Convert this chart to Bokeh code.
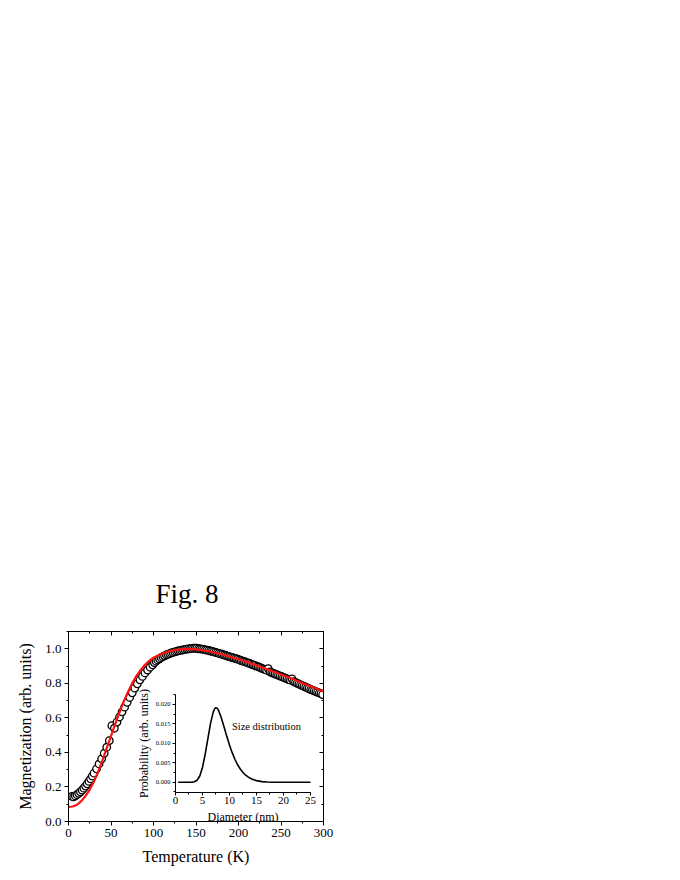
from bokeh.plotting import figure
from bokeh.models import (LinearAxis, Range1d, SingleIntervalTicker,
                          NumeralTickFormatter, Label)
from bokeh.embed import file_html
from bokeh.resources import INLINE

# ---- main data: measured magnetization (circles) ----
temp_meas = [4, 6, 8, 10, 12, 14, 16, 18, 20, 22, 24, 26, 28, 30, 33, 36, 39, 42, 45, 48,
             51, 54, 57, 60, 63, 66, 69, 72, 75, 78, 81, 84, 87, 90, 93, 96, 99,
             101, 103, 105, 107, 109, 111, 113, 115, 117, 119, 121, 123, 125, 127, 129,
             131, 133, 135, 137, 139, 141, 143, 145, 147, 149, 151, 153, 155, 157, 159,
             161, 163, 165, 167, 169, 171, 173, 175, 177, 179, 181, 183, 185, 187, 189,
             191, 193, 195, 197, 199, 201, 203, 205, 207, 209, 211, 213, 215, 217, 219,
             221, 223, 225, 227, 229, 231, 233, 235, 237, 239, 241, 243, 245, 247, 249,
             251, 253, 255, 257, 259, 261, 263, 265, 267, 269, 271, 273, 275, 277, 279,
             281, 283, 285, 287, 289, 291, 293, 295, 297, 299]
mag_meas = [0.145, 0.142, 0.148, 0.155, 0.163, 0.172, 0.182, 0.193, 0.205, 0.218, 0.232, 0.247,
            0.263, 0.280, 0.305, 0.333, 0.363, 0.395, 0.430, 0.468,
            0.555, 0.540, 0.575, 0.605, 0.635, 0.662, 0.690, 0.718, 0.745, 0.772, 0.797,
            0.820, 0.840, 0.860, 0.877, 0.893, 0.907,
            0.920, 0.928, 0.935, 0.942, 0.948, 0.954, 0.959, 0.964, 0.968, 0.972, 0.976,
            0.979, 0.982, 0.985, 0.988, 0.990, 0.992, 0.994, 0.996, 0.998, 0.999, 1.000,
            1.002, 1.003, 1.003, 1.004, 1.000, 0.999, 0.998, 0.996, 0.994, 0.992, 0.990,
            0.987, 0.985, 0.982, 0.979, 0.976, 0.973, 0.970, 0.967, 0.964, 0.961, 0.958,
            0.955, 0.952, 0.949, 0.946, 0.943, 0.940, 0.936, 0.932, 0.929, 0.925, 0.922,
            0.918, 0.915, 0.911, 0.907, 0.904, 0.900, 0.896, 0.892, 0.888, 0.884, 0.880,
            0.876, 0.885, 0.866, 0.862, 0.858, 0.854, 0.850, 0.846, 0.842, 0.838, 0.834,
            0.830, 0.826, 0.822, 0.818, 0.826, 0.810, 0.805, 0.800, 0.796, 0.791, 0.787,
            0.782, 0.778, 0.773, 0.769, 0.764, 0.760, 0.756, 0.752, 0.748, 0.744, 0.740,
            0.735]

# ---- fit curve (red) ----
temp_fit = [0, 5, 10, 15, 20, 25, 30, 35, 40, 45, 50, 55, 60, 65, 70, 75, 80, 85, 90, 95,
            100, 110, 120, 130, 140, 150, 160, 170, 180, 190, 200, 210, 220, 230, 240,
            250, 260, 270, 280, 290, 300]
mag_fit = [0.085, 0.087, 0.097, 0.118, 0.148, 0.185, 0.232, 0.290, 0.355, 0.425, 0.495,
           0.565, 0.632, 0.695, 0.750, 0.800, 0.843, 0.878, 0.907, 0.930, 0.948, 0.973,
           0.988, 0.996, 0.999, 0.997, 0.990, 0.980, 0.968, 0.954, 0.939, 0.923, 0.906,
           0.888, 0.870, 0.851, 0.832, 0.812, 0.792, 0.773, 0.753]

# ---- inset: size distribution ----
diameter = [0.5, 1, 2, 3, 3.5, 4, 4.5, 5, 5.5, 6, 6.5, 7, 7.25, 7.5, 7.75, 8, 8.5, 9, 9.5,
            10, 10.5, 11, 11.5, 12, 12.5, 13, 13.5, 14, 14.5, 15, 16, 17, 18, 20, 25]
probability = [0, 0, 0, 0.00002, 0.0001, 0.0005, 0.0016, 0.0038, 0.0072, 0.0112, 0.0152,
               0.0181, 0.0189, 0.0192, 0.0190, 0.0184, 0.0165, 0.0142, 0.0118, 0.0096,
               0.0076, 0.0059, 0.0045, 0.0034, 0.0025, 0.0018, 0.0013, 0.0009, 0.0006,
               0.0004, 0.00015, 0.00005, 0, 0, 0]

FONT = "Liberation Serif"

p = figure(width=672, height=872, x_range=(0, 300), y_range=(0, 1.1),
           output_backend="svg", toolbar_location=None,
           min_border_left=68, min_border_right=349, min_border_top=631,
           min_border_bottom=51, title="Fig. 8")
p.title.align = "left"
p.title.text_font = FONT
p.title.text_font_size = "27px"
p.title.text_font_style = "normal"
p.title.text_color = "black"
p.title.offset = 87
p.title.standoff = 46
p.xgrid.visible = False
p.ygrid.visible = False
p.outline_line_color = "black"
p.outline_line_width = 1
p.background_fill_color = "white"
p.border_fill_color = "white"

# main axes
for ax, tk, fmt, lab in ((p.xaxis[0], SingleIntervalTicker(interval=50, num_minor_ticks=2), None, "Temperature (K)"),
                         (p.yaxis[0], SingleIntervalTicker(interval=0.2, num_minor_ticks=2), NumeralTickFormatter(format="0.0"), "Magnetization (arb. units)")):
    ax.ticker = tk
    if fmt is not None:
        ax.formatter = fmt
    ax.axis_label = lab
    ax.axis_label_text_font = FONT
    ax.axis_label_text_font_size = "16px"
    ax.axis_label_text_font_style = "normal"
    ax.axis_label_text_color = "black"
    ax.major_label_text_font = FONT
    ax.major_label_text_font_size = "13px"
    ax.major_label_text_color = "black"
    ax.axis_line_color = "black"
    ax.major_tick_line_color = "black"
    ax.minor_tick_line_color = "black"
    ax.major_tick_out = 4
    ax.major_tick_in = 0
    ax.minor_tick_out = 2
    ax.minor_tick_in = 0
    ax.major_label_standoff = 3
p.xaxis[0].axis_label_standoff = 8
p.yaxis[0].axis_label_standoff = 8

# mirrored ticks on top and right
top = LinearAxis(ticker=SingleIntervalTicker(interval=50, num_minor_ticks=2),
                 major_tick_in=4, major_tick_out=0, minor_tick_in=2, minor_tick_out=0,
                 major_label_text_color=None, major_label_text_font_size="1px",
                 major_label_standoff=0, axis_line_color="black",
                 major_tick_line_color="black", minor_tick_line_color="black")
right = LinearAxis(ticker=SingleIntervalTicker(interval=0.2, num_minor_ticks=2),
                   major_tick_in=4, major_tick_out=0, minor_tick_in=2, minor_tick_out=0,
                   major_label_text_color=None, axis_line_color="black",
                   major_tick_line_color="black", minor_tick_line_color="black")
p.add_layout(top, "above")
p.add_layout(right, "right")

# data
p.scatter(temp_meas, mag_meas, size=7.5, marker="circle", fill_color="white",
          line_color="black", line_width=1.3)
p.line(temp_fit, mag_fit, line_color="#ff1010", line_width=2.2)

# inset via extra ranges
p.extra_x_ranges = {"ix": Range1d(-19.81, 27.41)}
p.extra_y_ranges = {"iy": Range1d(-0.01012, 0.03879)}

ix = LinearAxis(x_range_name="ix", y_range_name="iy", fixed_location=-0.0026,
                bounds=(0, 25), ticker=SingleIntervalTicker(interval=5, num_minor_ticks=2),
                axis_label="Diameter (nm)")
iy = LinearAxis(x_range_name="ix", y_range_name="iy", fixed_location=0,
                bounds=(-0.0026, 0.0226),
                ticker=SingleIntervalTicker(interval=0.005, num_minor_ticks=2),
                formatter=NumeralTickFormatter(format="0.000"),
                axis_label="Probability (arb. units)")
for ax, fs in ((ix, "11px"), (iy, "6.5px")):
    ax.axis_label_text_font = FONT
    ax.axis_label_text_font_size = "12px"
    ax.axis_label_text_font_style = "normal"
    ax.axis_label_text_color = "black"
    ax.axis_label_standoff = 2
    ax.major_label_text_font = FONT
    ax.major_label_text_font_size = fs
    ax.major_label_text_color = "black"
    ax.major_label_standoff = 2
    ax.axis_line_color = "black"
    ax.major_tick_line_color = "black"
    ax.minor_tick_line_color = "black"
    ax.major_tick_out = 3
    ax.major_tick_in = 0
    ax.minor_tick_out = 2
    ax.minor_tick_in = 0
p.add_layout(ix, "below")
p.add_layout(iy, "left")

p.line(diameter, probability, x_range_name="ix", y_range_name="iy",
       line_color="black", line_width=1.6)

p.add_layout(Label(x=10.45, y=0.0144, x_range_name="ix", y_range_name="iy",
                   text="Size distribution", text_font=FONT, text_font_size="10.5px",
                   text_color="black", text_baseline="alphabetic"))

open("out.html", "w").write(file_html(p, INLINE))
